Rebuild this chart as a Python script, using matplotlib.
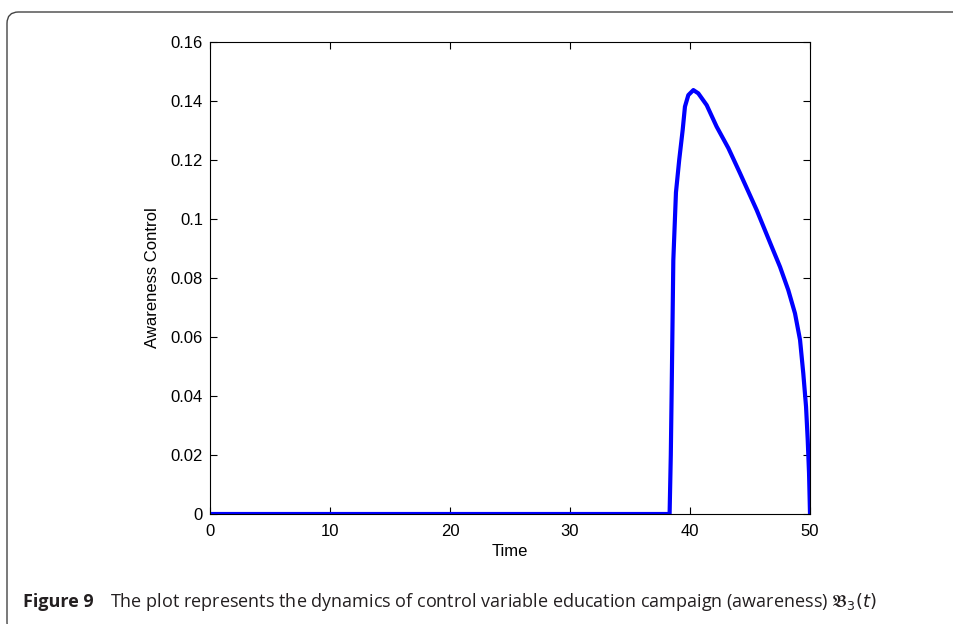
import matplotlib
matplotlib.use("Agg")
import matplotlib.pyplot as plt
from matplotlib.patches import FancyBboxPatch

# Data
time = [0, 10, 20, 30, 38.3, 38.4, 38.47, 38.61, 38.83, 39.1, 39.39, 39.58,
        39.86, 40.28, 40.69, 41.39, 42.22, 43.2, 44.17, 45.56, 46.81, 47.5,
        48.19, 48.75, 49.17, 49.44, 49.67, 49.81, 49.92, 50.0]
control = [0, 0, 0, 0, 0, 0.02, 0.041, 0.086, 0.109, 0.12, 0.1302, 0.1381,
           0.142, 0.1437, 0.1426, 0.1386, 0.1313, 0.124, 0.1155, 0.103, 0.0906,
           0.0838, 0.0759, 0.068, 0.059, 0.0477, 0.0364, 0.0251, 0.0138, 0.0]

xticks = [0, 10, 20, 30, 40, 50]
yticks = [0, 0.02, 0.04, 0.06, 0.08, 0.1, 0.12, 0.14, 0.16]
ytick_labels = ["0", "0.02", "0.04", "0.06", "0.08", "0.1", "0.12", "0.14", "0.16"]

plt.rcParams['font.family'] = ['Liberation Sans', 'DejaVu Sans']

fig = plt.figure(figsize=(9.54, 6.24), dpi=100)
W, H = 954, 624

# Rounded frame (bottom and right edges fall outside the image)
frame = FancyBboxPatch((7 / W, -10 / H), 960 / W, 622 / H,
                       boxstyle="round,pad=0,rounding_size=0.012",
                       transform=fig.transFigure, fill=False,
                       edgecolor="#444444", linewidth=1.0, mutation_aspect=W / H,
                       clip_on=False)
fig.patches.append(frame)

ax = fig.add_axes([210 / W, 110 / H, 600 / W, 472 / H])
ax.plot(time, control, color="#0000FF", linewidth=3.0,
        solid_joinstyle="round", solid_capstyle="butt")
ax.set_xlim(0, 50)
ax.set_ylim(0, 0.16)
ax.set_xticks(xticks)
ax.set_xticklabels([str(t) for t in xticks])
ax.set_yticks(yticks)
ax.set_yticklabels(ytick_labels)
ax.tick_params(direction="in", top=True, right=True, length=5, width=0.8,
               labelsize=12)
ax.tick_params(axis="x", pad=7)
ax.tick_params(axis="y", pad=5)
for s in ax.spines.values():
    s.set_linewidth(0.8)
ax.set_xlabel("Time", fontsize=12, labelpad=4)
ax.set_ylabel("Awareness Control", fontsize=12, labelpad=8)

# Caption
cap_y = 1 - 607 / H
fig.text(23 / W, cap_y, "Figure 9", fontsize=13, fontweight="bold",
         family=["Open Sans", "DejaVu Sans"], va="baseline", ha="left",
         color="#231f20")
fig.text(110 / W, cap_y,
         r"The plot represents the dynamics of control variable education campaign (awareness) $\mathfrak{B}_3(t)$",
         fontsize=13, family=["Open Sans", "DejaVu Sans"], va="baseline", ha="left",
         color="#231f20")

fig.savefig("out.png", dpi=100)
